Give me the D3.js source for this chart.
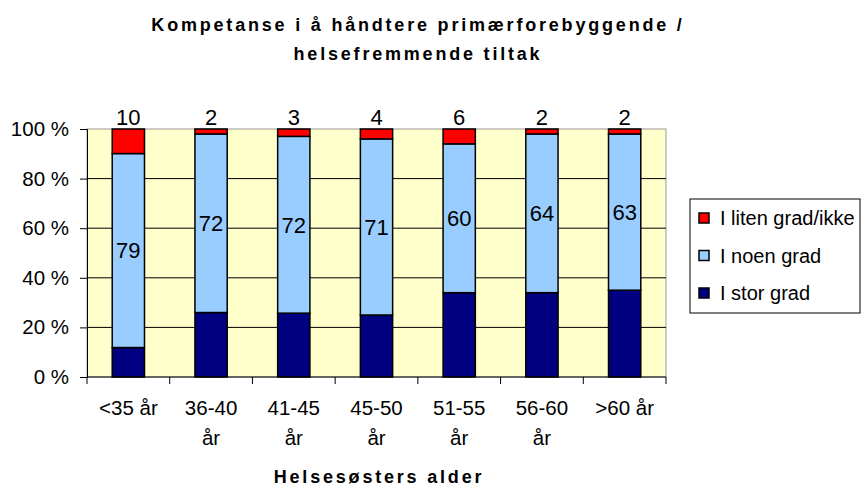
<!DOCTYPE html>
<html>
<head>
<meta charset="utf-8">
<script src="https://cdn.jsdelivr.net/npm/d3@7"></script>
<style>
  body { margin: 0; background: #fff; }
  svg text { font-family: "Liberation Sans", Arial, sans-serif; fill: #000; }
</style>
</head>
<body>
<svg width="861" height="488"></svg>
<script>
// data
var categories = ["<35 år", "36-40 år", "41-45 år", "45-50 år", "51-55 år", "56-60 år", ">60 år"];
var tickLines = [["<35 år"], ["36-40", "år"], ["41-45", "år"], ["45-50", "år"], ["51-55", "år"], ["56-60", "år"], [">60 år"]];
var storGrad = [12, 26, 26, 25, 34, 34, 35];
var noenGrad = [79, 72, 72, 71, 60, 64, 63];
var litenGrad = [10, 2, 3, 4, 6, 2, 2];
var seriesNames = ["I stor grad", "I noen grad", "I liten grad/ikke"];
var yTicks = [0, 0.2, 0.4, 0.6, 0.8, 1];

var colors = ["#000080", "#99CCFF", "#FF0000"];

var svg = d3.select("svg"),
    margin = { top: 129, left: 87 },
    width = 666 - 87,
    height = 377 - 129;

var rows = categories.map(function(c, i) {
  var tot = storGrad[i] + noenGrad[i] + litenGrad[i];
  return { cat: c, vals: [storGrad[i], noenGrad[i], litenGrad[i]], total: tot };
});

var x = d3.scaleBand().domain(categories).range([0, width]).paddingInner(0.61).paddingOuter(0.305);
var y = d3.scaleLinear().domain([0, 1]).range([height, 0]);

var g = svg.append("g").attr("transform", "translate(" + margin.left + "," + margin.top + ")");

// plot background
g.append("rect")
  .attr("width", width).attr("height", height)
  .attr("fill", "#FFFFCC")
  .attr("stroke", "#999").attr("stroke-width", 1);

// grid lines
g.selectAll("line.grid")
  .data(yTicks.slice(1, -1))
  .enter().append("line")
  .attr("class", "grid")
  .attr("x1", 0).attr("x2", width)
  .attr("y1", function(d) { return y(d); })
  .attr("y2", function(d) { return y(d); })
  .attr("stroke", "#000").attr("stroke-width", 1);

// stacked bars
var stack = d3.stack().keys([0, 1, 2])
  .value(function(d, k) { return d.vals[k] / d.total; });
var layers = stack(rows);

layers.forEach(function(layer, k) {
  g.selectAll("rect.s" + k)
    .data(layer)
    .enter().append("rect")
    .attr("class", "s" + k)
    .attr("x", function(d) { return x(d.data.cat); })
    .attr("width", x.bandwidth())
    .attr("y", function(d) { return y(d[1]); })
    .attr("height", function(d) { return y(d[0]) - y(d[1]); })
    .attr("fill", colors[k])
    .attr("stroke", "#000").attr("stroke-width", 1.5);
});

// labels for "I noen grad" (centred) and "I liten grad/ikke" (above the bar)
g.selectAll("text.mid")
  .data(layers[1])
  .enter().append("text")
  .attr("x", function(d) { return x(d.data.cat) + x.bandwidth() / 2; })
  .attr("y", function(d) { return (y(d[0]) + y(d[1])) / 2; })
  .attr("dy", "0.36em")
  .attr("text-anchor", "middle")
  .style("font-size", "22px")
  .text(function(d) { return d.data.vals[1]; });

g.selectAll("text.top")
  .data(layers[2])
  .enter().append("text")
  .attr("x", function(d) { return x(d.data.cat) + x.bandwidth() / 2; })
  .attr("y", function(d) { return y(d[1]) - 4; })
  .attr("text-anchor", "middle")
  .style("font-size", "22px")
  .text(function(d) { return d.data.vals[2]; });

// y axis
var yAxis = d3.axisLeft(y).tickValues(yTicks).tickSize(7).tickPadding(11)
  .tickFormat(function(d) { return Math.round(d * 100) + " %"; });
var ya = g.append("g").call(yAxis);
ya.select(".domain").attr("stroke", "#000");
ya.selectAll(".tick line").attr("stroke", "#000");
ya.selectAll("text").style("font-size", "20.5px").attr("fill", "#000")
  .style("font-family", "'Liberation Sans', Arial, sans-serif");

// x axis: ticks at band boundaries
var step = x.step();
var xa = g.append("g").attr("transform", "translate(0," + height + ")");
xa.append("line").attr("x1", 0).attr("x2", width).attr("stroke", "#000");
xa.selectAll("line.tk")
  .data(d3.range(categories.length + 1))
  .enter().append("line")
  .attr("x1", function(i) { return i * step; })
  .attr("x2", function(i) { return i * step; })
  .attr("y1", 0).attr("y2", 7)
  .attr("stroke", "#000");

xa.selectAll("text.cat")
  .data(categories)
  .enter().append("text")
  .attr("text-anchor", "middle")
  .attr("transform", function(c) { return "translate(" + (x(c) + x.bandwidth() / 2) + ",0)"; })
  .style("font-size", "20.5px")
  .each(function(c, i) {
    var t = d3.select(this);
    tickLines[i].forEach(function(line, j) {
      t.append("tspan").attr("x", 0).attr("y", 38 + j * 30).text(line);
    });
  });

// title
svg.append("text")
  .attr("x", 418).attr("y", 31)
  .attr("text-anchor", "middle")
  .style("font-size", "18px").style("font-weight", "bold").style("letter-spacing", "2.8px")
  .text("Kompetanse i å håndtere primærforebyggende /");
svg.append("text")
  .attr("x", 418).attr("y", 60)
  .attr("text-anchor", "middle")
  .style("font-size", "18px").style("font-weight", "bold").style("letter-spacing", "2.8px")
  .text("helsefremmende tiltak");

// x axis title
svg.append("text")
  .attr("x", 379).attr("y", 483)
  .attr("text-anchor", "middle")
  .style("font-size", "18px").style("font-weight", "bold").style("letter-spacing", "2.8px")
  .text("Helsesøsters alder");

// legend
var legend = svg.append("g").attr("transform", "translate(690,199)");
legend.append("rect")
  .attr("width", 170).attr("height", 114)
  .attr("fill", "#fff").attr("stroke", "#000");
var order = [2, 1, 0];
var li = legend.selectAll("g.item")
  .data(order)
  .enter().append("g")
  .attr("transform", function(k, i) { return "translate(9," + (19 + i * 37.5) + ")"; });
li.append("rect")
  .attr("x", 0).attr("y", -5).attr("width", 10).attr("height", 10)
  .attr("fill", function(k) { return colors[k]; })
  .attr("stroke", "#000").attr("stroke-width", 1.5);
li.append("text")
  .attr("x", 21).attr("dy", "0.36em")
  .style("font-size", "20px")
  .text(function(k) { return seriesNames[k]; });
</script>
</body>
</html>
